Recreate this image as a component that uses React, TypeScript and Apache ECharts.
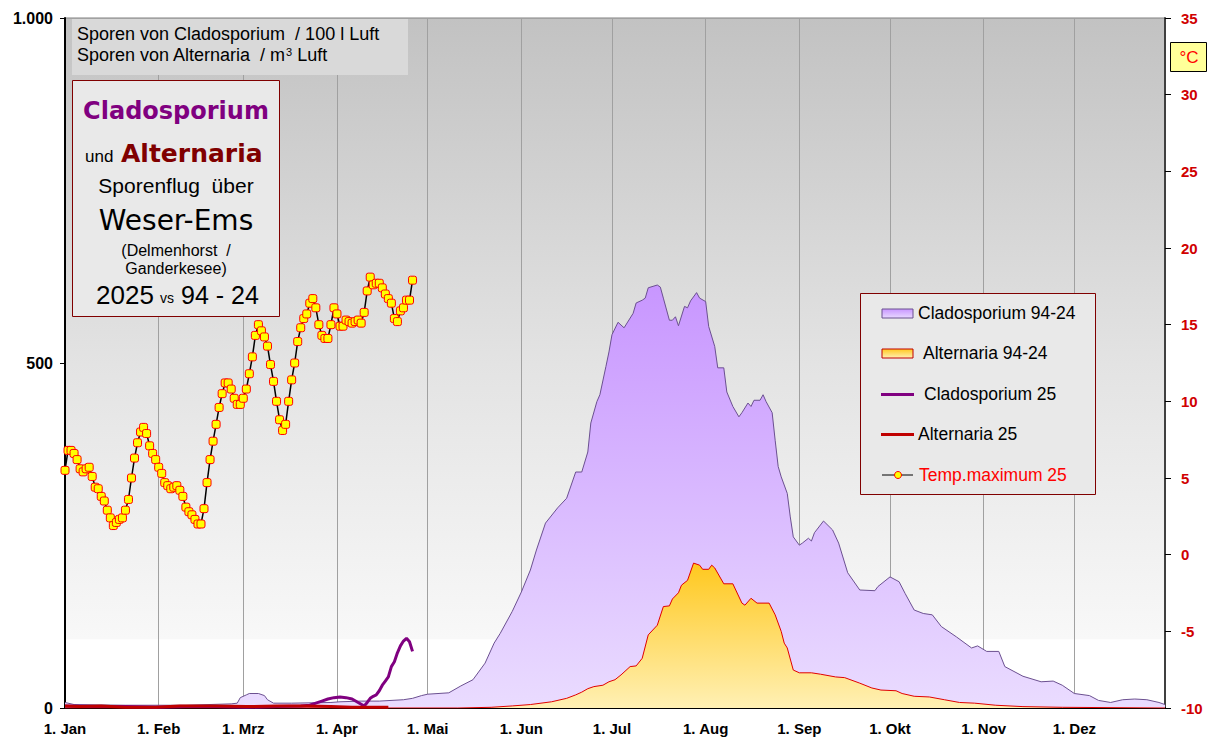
import React, { useEffect, useRef } from "react";
import * as echarts from "echarts";

const SANS = "'Liberation Sans', Arial, sans-serif";
const COMIC = "'DejaVu Sans', sans-serif";

const monthLabels = ["1. Jan", "1. Feb", "1. Mrz", "1. Apr", "1. Mai", "1. Jun", "1. Jul", "1. Aug", "1. Sep", "1. Okt", "1. Nov", "1. Dez"];
const monthStartDays = [0, 31, 59, 90, 120, 151, 181, 212, 243, 273, 304, 334];
const dayCategories = Array.from({ length: 365 }, (_, i) => String(i + 1));

// Cladosporium 94-24 mean: [dayIndex, spores / 100 l]
const clado9424: [number, number][] = [
  [0, 8], [3, 5], [20, 4], [40, 4], [55, 6], [57, 7], [58, 15], [60, 19], [61, 21], [64, 21], [66, 18], [67, 12], [69, 7],
  [75, 7], [88, 8], [91, 9], [98, 10], [104, 10], [112, 12], [115, 14], [118, 18], [120, 20], [127, 22], [131, 32], [135, 41],
  [139, 65], [142, 94], [144, 108], [148, 140], [151, 168], [154, 200], [156, 229], [159, 268], [163, 290], [166, 304],
  [169, 342], [171, 342], [173, 371], [174, 413], [176, 444], [177, 454], [179, 495], [180, 516], [181, 541], [183, 559],
  [185, 551], [186, 558], [188, 572], [189, 587], [191, 591], [192, 594], [193, 609], [196, 613], [197, 610], [198, 594],
  [200, 562], [201, 562], [202, 567], [203, 554], [205, 582], [206, 580], [207, 590], [209, 602], [210, 594], [212, 589],
  [213, 553], [215, 524], [216, 493], [218, 493], [219, 458], [221, 437], [223, 422], [224, 428], [226, 442], [227, 437],
  [228, 446], [230, 446], [231, 454], [232, 444], [234, 428], [235, 388], [236, 350], [237, 335], [239, 311], [240, 277],
  [241, 248], [243, 236], [244, 239], [246, 246], [247, 242], [248, 254], [251, 271], [254, 258], [256, 239], [259, 196],
  [263, 171], [268, 170], [269, 176], [273, 190], [276, 183], [278, 166], [281, 142], [284, 137], [287, 135], [290, 118],
  [295, 103], [300, 87], [302, 90], [305, 82], [309, 82], [311, 60], [317, 46], [323, 38], [327, 39], [330, 33], [334, 21],
  [339, 18], [342, 11], [346, 8], [350, 12], [354, 13], [358, 12], [362, 8], [364, 5],
];

// Alternaria 94-24 mean: [dayIndex, spores / m3]
const alter9424: [number, number][] = [
  [0, 0], [130, 0], [141, 1], [148, 3], [154, 5], [161, 9], [166, 14], [169, 19], [171, 23], [173, 28], [175, 31], [178, 33],
  [180, 38], [182, 41], [184, 48], [187, 60], [189, 61], [191, 72], [193, 106], [196, 120], [198, 147], [200, 148], [201, 158],
  [203, 167], [204, 178], [206, 185], [208, 210], [210, 207], [211, 201], [213, 201], [214, 207], [215, 203], [218, 180],
  [221, 180], [224, 152], [225, 149], [227, 159], [229, 152], [233, 152], [235, 135], [237, 111], [238, 94], [239, 87],
  [241, 55], [243, 51], [247, 51], [250, 49], [255, 45], [258, 44], [263, 36], [267, 29], [270, 26], [275, 25], [277, 21],
  [281, 17], [286, 16], [291, 12], [296, 8], [301, 7], [308, 4], [317, 2], [330, 1], [364, 0],
];

// 2025 measurements
const clado2025: [number, number][] = [
  [0, 3], [10, 2], [20, 2], [30, 1], [40, 2], [50, 2], [60, 1], [70, 2], [78, 3], [81, 4], [83, 7], [85, 10], [87, 13],
  [89, 15], [91, 16], [93, 15], [95, 13], [97, 8], [99, 3], [100, 8], [101, 14], [102, 17], [103, 19], [104, 25], [105, 33],
  [106, 39], [107, 45], [108, 60], [109, 67], [110, 80], [111, 90], [112, 97], [113, 101], [114, 96], [115, 82],
];
const alter2025: [number, number][] = [
  [0, 3], [5, 2], [12, 3], [20, 1], [30, 1], [38, 3], [50, 3], [60, 2], [70, 3], [80, 3], [88, 2], [95, 1], [107, 1],
];

// Temp. maximum 2025 (°C), one value per day from 1 Jan
const tempMax2025 = [
  5.5, 6.8, 6.8, 6.6, 6.2, 5.6, 5.4, 5.6, 5.7, 5.1, 4.4, 4.3, 3.8, 3.5, 2.9, 2.4, 1.9, 2.1, 2.3, 2.4,
  2.9, 3.6, 5.0, 6.3, 7.3, 8.0, 8.3, 7.9, 7.1, 6.6, 6.2, 5.7, 5.3, 4.7, 4.5, 4.3, 4.4, 4.5, 4.2, 3.8,
  3.1, 2.8, 2.6, 2.3, 2.0, 2.0, 3.0, 4.7, 6.2, 7.4, 8.5, 9.6, 10.5, 11.2, 11.2, 10.8, 10.2, 9.8, 9.8, 10.2,
  10.8, 11.8, 12.9, 14.3, 15.0, 14.6, 14.2, 13.6, 12.4, 11.3, 10.0, 8.8, 8.1, 8.5, 10.0, 11.4, 12.5, 13.9, 14.8, 15.4,
  15.7, 16.4, 16.7, 16.1, 15.0, 14.3, 14.1, 14.1, 15.0, 16.1, 15.7, 14.9, 14.9, 15.3, 15.2, 15.1, 15.2, 15.3, 15.1, 15.8,
  17.2, 18.1, 17.6, 17.7, 17.7, 17.4, 17.0, 16.7, 16.4, 15.4, 15.2, 15.9, 16.1, 16.6, 16.6, 17.9,
];

const leftTicks = { min: 0, max: 1000, interval: 500 };
const rightTicks = { min: -10, max: 35, interval: 5 };

function vGrad(c0: string, c1: string) {
  return new echarts.graphic.LinearGradient(0, 0, 0, 1, [
    { offset: 0, color: c0 },
    { offset: 1, color: c1 },
  ]);
}

function txt(x: number, y: number, text: string, size: number, opts: any = {}) {
  return {
    type: "text",
    x,
    y,
    z: 100,
    style: {
      text,
      fill: opts.fill || "#000",
      fontSize: size,
      fontFamily: opts.family || SANS,
      fontWeight: opts.weight || "normal",
      align: opts.align || "left",
      verticalAlign: "middle",
    },
  };
}

export default function App() {
  const ref = useRef<HTMLDivElement>(null);
  useEffect(() => {
    if (!ref.current) return;
    const chart = echarts.init(ref.current, null, { renderer: "svg" });

    const graphic: any[] = [
      // units box
      { type: "rect", shape: { x: 72, y: 19, width: 336, height: 56 }, style: { fill: "#d9d9d9" }, z: 90 },
      txt(77, 34, "Sporen von Cladosporium  / 100 l Luft", 18),
      {
        type: "text", x: 77, y: 55, z: 100,
        style: {
          text: "{a|Sporen von Alternaria  / m}{s|3}{a| Luft}",
          verticalAlign: "middle",
          rich: {
            a: { fontSize: 18, fontFamily: SANS, fill: "#000", verticalAlign: "bottom" },
            s: { fontSize: 11, fontFamily: SANS, fill: "#000", verticalAlign: "top", padding: [0, 0, 7, 0] },
          },
        },
      },
      // title box
      { type: "rect", shape: { x: 72.5, y: 80.5, width: 207, height: 236 }, style: { fill: "#e9e9e9", stroke: "#800000", lineWidth: 1 }, z: 90 },
      txt(176, 111, "Cladosporium", 24, { family: COMIC, weight: "bold", fill: "#800080", align: "center" }),
      txt(85, 156, "und", 17),
      txt(121, 153, "Alternaria", 25, { family: COMIC, weight: "bold", fill: "#800000" }),
      txt(176, 185, "Sporenflug  über", 21, { align: "center" }),
      txt(176, 220, "Weser-Ems", 28, { family: COMIC, align: "center" }),
      txt(176, 250, "(Delmenhorst  /", 16, { align: "center" }),
      txt(176, 268, "Ganderkesee)", 16, { align: "center" }),
      txt(96, 295, "2025", 26),
      txt(160, 298, "vs", 14),
      txt(181, 295, "94 - 24", 25),
      // °C box
      { type: "rect", shape: { x: 1170.5, y: 42.5, width: 36, height: 29 }, style: { fill: "#ffff99", stroke: "#000", lineWidth: 1 }, z: 90 },
      txt(1189, 57, "°C", 17, { fill: "#ff0000", align: "center" }),
      // legend box
      { type: "rect", shape: { x: 860.5, y: 293.5, width: 235, height: 201 }, style: { fill: "#e9e9e9", stroke: "#800000", lineWidth: 1 }, z: 90 },
      { type: "rect", shape: { x: 882, y: 309, width: 31, height: 9 }, style: { fill: vGrad("#c896ff", "#e8d8ff"), stroke: "#6b5090", lineWidth: 1 }, z: 100 },
      txt(918, 313, "Cladosporium 94-24", 17.5),
      { type: "rect", shape: { x: 882, y: 349, width: 31, height: 9 }, style: { fill: vGrad("#ffc81e", "#fff0b4"), stroke: "#c00000", lineWidth: 1 }, z: 100 },
      txt(923, 353, "Alternaria 94-24", 17.5),
      { type: "line", shape: { x1: 881, y1: 394.5, x2: 914, y2: 394.5 }, style: { stroke: "#800080", lineWidth: 3 }, z: 100 },
      txt(924, 394, "Cladosporium 25", 17.5),
      { type: "line", shape: { x1: 881, y1: 434.5, x2: 914, y2: 434.5 }, style: { stroke: "#c00000", lineWidth: 3 }, z: 100 },
      txt(918, 434, "Alternaria 25", 17.5),
      { type: "line", shape: { x1: 882, y1: 475, x2: 913, y2: 475 }, style: { stroke: "#000", lineWidth: 1 }, z: 100 },
      { type: "circle", shape: { cx: 898, cy: 475, r: 3.5 }, style: { fill: "#ffff00", stroke: "#ff0000", lineWidth: 1 }, z: 101 },
      txt(919, 475, "Temp.maximum 25", 17.5, { fill: "#ff0000" }),
    ];

    chart.setOption({
      animation: false,
      backgroundColor: "#ffffff",
      grid: {
        left: 65, right: 48, top: 18, bottom: 46, show: true,
        backgroundColor: new echarts.graphic.LinearGradient(0, 0, 0, 1, [
          { offset: 0, color: "#c2c2c2" },
          { offset: 0.5, color: "#e3e3e3" },
          { offset: 0.9, color: "#f8f8f8" },
          { offset: 0.901, color: "#ffffff" },
          { offset: 1, color: "#ffffff" },
        ]),
        borderColor: "#808080", borderWidth: 1,
      },
      xAxis: {
        type: "category",
        data: dayCategories,
        boundaryGap: false,
        axisLine: { show: true, lineStyle: { color: "#000", width: 2 } },
        axisTick: { show: false },
        axisLabel: {
          interval: (i: number) => monthStartDays.includes(i),
          formatter: (_v: string, i: number) => monthLabels[monthStartDays.indexOf(i)] || "",
          color: "#000", fontWeight: "bold", fontSize: 15, fontFamily: SANS, margin: 13,
        },
        splitLine: {
          show: true,
          interval: (i: number) => monthStartDays.includes(i) && i > 0,
          lineStyle: { color: "#a0a0a0", width: 1 },
        },
      },
      yAxis: [
        {
          type: "value", position: "left", ...leftTicks,
          axisLine: { show: true, lineStyle: { color: "#000", width: 2 } },
          axisTick: { show: true, length: 5, lineStyle: { color: "#000" } },
          axisLabel: {
            formatter: (v: number) => (v === 1000 ? "1.000" : String(v)),
            color: "#000", fontWeight: "bold", fontSize: 16, fontFamily: SANS, margin: 12,
          },
          splitLine: { show: false },
        },
        {
          type: "value", position: "right", ...rightTicks,
          axisLine: { show: true, lineStyle: { color: "#404040", width: 2 } },
          axisTick: { show: true, length: 6, lineStyle: { color: "#000" } },
          axisLabel: { color: "#d00000", fontWeight: "bold", fontSize: 15, fontFamily: SANS, margin: 16 },
          splitLine: { show: false },
        },
      ],
      series: [
        {
          name: "Cladosporium 94-24", type: "line", yAxisIndex: 0, data: clado9424, symbol: "none",
          lineStyle: { color: "#6b5090", width: 1 },
          areaStyle: { color: vGrad("#c896ff", "#eadcff"), opacity: 1 },
          z: 2,
        },
        {
          name: "Alternaria 94-24", type: "line", yAxisIndex: 0, data: alter9424, symbol: "none",
          lineStyle: { color: "#e00000", width: 1 },
          areaStyle: { color: vGrad("#ffc81e", "#fff0b4"), opacity: 1 },
          z: 3,
        },
        {
          name: "Cladosporium 25", type: "line", yAxisIndex: 0, data: clado2025, symbol: "none",
          lineStyle: { color: "#800080", width: 3 }, z: 4,
        },
        {
          name: "Alternaria 25", type: "line", yAxisIndex: 0, data: alter2025, symbol: "none",
          lineStyle: { color: "#c00000", width: 3 }, z: 5,
        },
        {
          name: "Temp.maximum 25", type: "line", yAxisIndex: 1, data: tempMax2025,
          symbol: "roundRect", symbolSize: 8, showAllSymbol: true,
          itemStyle: { color: "#ffff00", borderColor: "#ff0000", borderWidth: 1 },
          lineStyle: { color: "#000", width: 1.5 }, z: 6,
        },
      ],
      graphic,
    });
    return () => chart.dispose();
  }, []);
  return <div ref={ref} style={{ position: "fixed", left: 0, top: 0, width: 1213, height: 754 }} />;
}
